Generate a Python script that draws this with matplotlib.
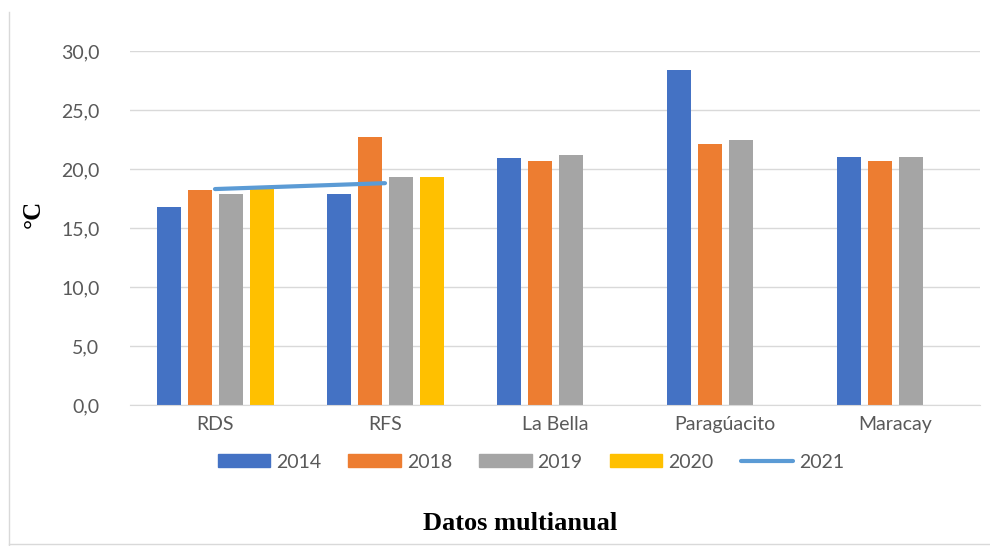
import matplotlib
matplotlib.use("Agg")
import matplotlib.pyplot as plt
import numpy as np
from matplotlib.lines import Line2D
from matplotlib.patches import Patch

categories = ["RDS", "RFS", "La Bella", "Paragúacito", "Maracay"]
years = ["2014", "2018", "2019", "2020"]
v2014 = [16.8, 17.9, 20.9, 28.4, 21.0]
v2018 = [18.2, 22.7, 20.7, 22.1, 20.7]
v2019 = [17.9, 19.3, 21.2, 22.5, 21.0]
v2020 = [18.4, 19.3, np.nan, np.nan, np.nan]
v2021 = [18.3, 18.8, np.nan, np.nan, np.nan]
yticks = [0, 5, 10, 15, 20, 25, 30]

colors = ["#4472C4", "#ED7D31", "#A5A5A5", "#FFC000"]
line_color = "#5B9BD5"
txt = "#595959"

fig = plt.figure(figsize=(9.9, 5.46), dpi=100)
ax = fig.add_axes([130/990, 1-405/546, 850/990, 354/546])

x = np.arange(len(categories))
step = 31/170
width = 24/170
series = [v2014, v2018, v2019, v2020]
for i, (vals, c) in enumerate(zip(series, colors)):
    ax.bar(x + (i - 1.5)*step, vals, width, color=c, zorder=2)
ax.plot(x, v2021, color=line_color, lw=3, solid_capstyle="round", zorder=3)

ax.set_xlim(-0.5, 4.5)
ax.set_ylim(0, 30)
ax.set_yticks(yticks)
ax.set_yticklabels([f"{t:.1f}".replace(".", ",") for t in yticks])
ax.set_xticks(x)
ax.set_xticklabels(categories)
ax.yaxis.grid(True, color="#D9D9D9", lw=1, zorder=0)
ax.set_axisbelow(True)
for s in ["top", "right", "left"]:
    ax.spines[s].set_visible(False)
ax.spines["bottom"].set_color("#D9D9D9")
ax.tick_params(axis="both", length=0, labelsize=14, labelcolor=txt, labelfontfamily="Lato")
ax.tick_params(axis="y", pad=22)
ax.tick_params(axis="x", pad=8)

fig.text(33/990, 1-214/546, "°C", rotation=90, ha="center", va="center",
         fontsize=18, fontweight="bold", family="Liberation Serif", color="black")

handles = [Patch(color=c) for c in colors] + [Line2D([0], [0], color=line_color, lw=3, solid_capstyle="round")]
labels = years + ["2021"]
leg = fig.legend(handles, labels, loc="center", bbox_to_anchor=(531/990, 1-462/546), ncol=5,
                 frameon=False, handlelength=2.7, handleheight=0.65, handletextpad=0.3,
                 columnspacing=1.4, prop={"family": "Lato", "size": 14})
for t in leg.get_texts():
    t.set_color(txt)

fig.text(520/990, 1-523/546, "Datos multianual", ha="center", va="center",
         fontsize=19, fontweight="bold", family="Liberation Serif", color="black")

fig.add_artist(Line2D([9/990, 9/990], [0, 1-12/546], color="#D9D9D9", lw=1))
fig.add_artist(Line2D([9/990, 1], [1-544/546, 1-544/546], color="#D9D9D9", lw=1))

fig.savefig("out.png", dpi=100)
